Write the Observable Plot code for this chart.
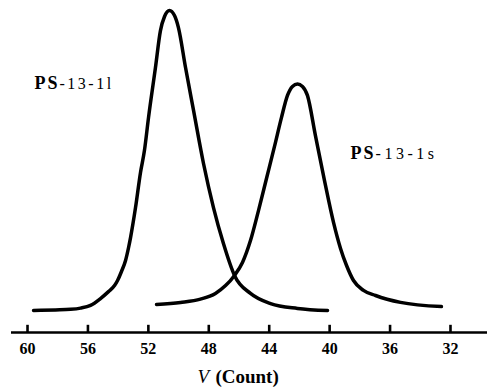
<!DOCTYPE html>
<html>
<head>
<meta charset="utf-8">
<script src="https://cdn.jsdelivr.net/npm/d3@7"></script>
<script src="https://cdn.jsdelivr.net/npm/@observablehq/plot@0.6"></script>
<style>
  html, body { margin: 0; padding: 0; background: #fff; }
  #chart svg { display: block; }
</style>
</head>
<body>
<div id="chart"></div>
<script>
// Tick values of the (reversed) V axis
const xTicks = [60, 56, 52, 48, 44, 40, 36, 32];

// Series labels
const seriesPrefix = ["PS", "PS"];
const seriesSuffix = ["-13-1l", "-13-1s"];

// Axis title parts
const titleVar = "V";
const titleUnit = "(Count)";

// Curve PS-13-1l : elution volume V and relative detector response
const v1 = [59.60, 58.15, 57.15, 56.49, 55.83, 55.17, 54.64, 54.24, 54.04, 53.78, 53.51, 53.31, 53.18, 52.85, 52.52, 52.26, 51.99, 51.53, 51.20, 50.93, 50.60, 50.27, 50.01, 49.54, 49.01, 48.35, 47.69, 47.03, 46.30, 45.24, 43.91, 42.13, 40.14];
const h1 = [0.0, 0.2, 0.4, 0.8, 1.7, 4.0, 6.3, 8.3, 10.0, 13.0, 16.7, 21.0, 24.3, 34.3, 46.0, 53.3, 64.3, 81.0, 93.3, 98.0, 100.0, 98.3, 94.3, 81.0, 66.7, 49.0, 34.3, 22.3, 11.7, 5.7, 2.3, 0.7, 0.0];

// Curve PS-13-1s
const v2 = [51.46, 49.87, 48.55, 47.56, 46.89, 46.30, 45.77, 45.24, 44.71, 44.18, 43.65, 43.19, 42.79, 42.46, 42.13, 41.80, 41.47, 40.94, 40.34, 39.74, 39.28, 38.88, 38.42, 37.76, 36.96, 35.31, 32.60];
const h2 = [2.0, 2.7, 3.8, 5.7, 8.3, 11.7, 16.0, 23.3, 33.3, 44.0, 54.7, 64.3, 71.7, 74.7, 75.5, 74.7, 71.7, 58.3, 43.3, 29.3, 20.7, 15.0, 10.0, 6.7, 5.0, 2.7, 1.3];

const d1 = v1.map((v, i) => ({V: v, h: h1[i]}));
const d2 = v2.map((v, i) => ({V: v, h: h2[i]}));

const yBase = -7.33;
const serif = "'Liberation Serif', 'DejaVu Serif', serif";

const chart = Plot.plot({
  width: 490,
  height: 391,
  marginLeft: 11,
  marginRight: 3,
  marginTop: 10,
  marginBottom: 59,
  style: {background: "#fff", color: "#000", fontFamily: serif},
  x: {domain: [61.06, 29.55], axis: null},
  y: {domain: [yBase, 100], axis: null},
  marks: [
    Plot.ruleY([yBase], {stroke: "#000", strokeWidth: 2.6}),
    Plot.ruleX(xTicks, {x: d => d, y1: yBase, y2: yBase + 2.4, stroke: "#000", strokeWidth: 2.6}),
    Plot.text(xTicks, {x: d => d, y: yBase, dy: 16, text: d => String(d), fontSize: 16, fontWeight: "bold", fill: "#000", fontFamily: serif}),
    Plot.text([titleVar], {x: 48.75, y: yBase, dy: 44, text: d => d, textAnchor: "start", fontSize: 19, fontStyle: "italic", fill: "#000", fontFamily: serif}),
    Plot.text([titleUnit], {x: 47.56, y: yBase, dy: 44, text: d => d, textAnchor: "start", fontSize: 19, fontWeight: "bold", fill: "#000", fontFamily: serif}),
    Plot.line(d1, {x: "V", y: "h", curve: "monotone-x", stroke: "#000", strokeWidth: 3.5, strokeLinecap: "round", strokeLinejoin: "round"}),
    Plot.line(d2, {x: "V", y: "h", curve: "monotone-x", stroke: "#000", strokeWidth: 3.5, strokeLinecap: "round", strokeLinejoin: "round"}),
    Plot.text([seriesPrefix[0]], {x: 59.54, y: 75.8, text: d => d, textAnchor: "start", fontSize: 18, fontWeight: "bold", fill: "#000", fontFamily: serif}),
    Plot.text([seriesSuffix[0]], {x: 57.88, y: 75.5, text: d => d, textAnchor: "start", fontSize: 16, fill: "#000", fontFamily: serif}),
    Plot.text([seriesPrefix[1]], {x: 38.62, y: 52.5, text: d => d, textAnchor: "start", fontSize: 18, fontWeight: "bold", fill: "#000", fontFamily: serif}),
    Plot.text([seriesSuffix[1]], {x: 36.96, y: 52.2, text: d => d, textAnchor: "start", fontSize: 16, fill: "#000", fontFamily: serif})
  ]
});

// letter spacing for the label texts
chart.querySelectorAll("text").forEach(t => {
  const s = t.textContent;
  if (s === "PS") t.setAttribute("letter-spacing", "2");
  if (s === "-13-1l") t.setAttribute("letter-spacing", "2.5");
  if (s === "-13-1s") t.setAttribute("letter-spacing", "3.5");
});

document.getElementById("chart").appendChild(chart);
</script>
</body>
</html>
